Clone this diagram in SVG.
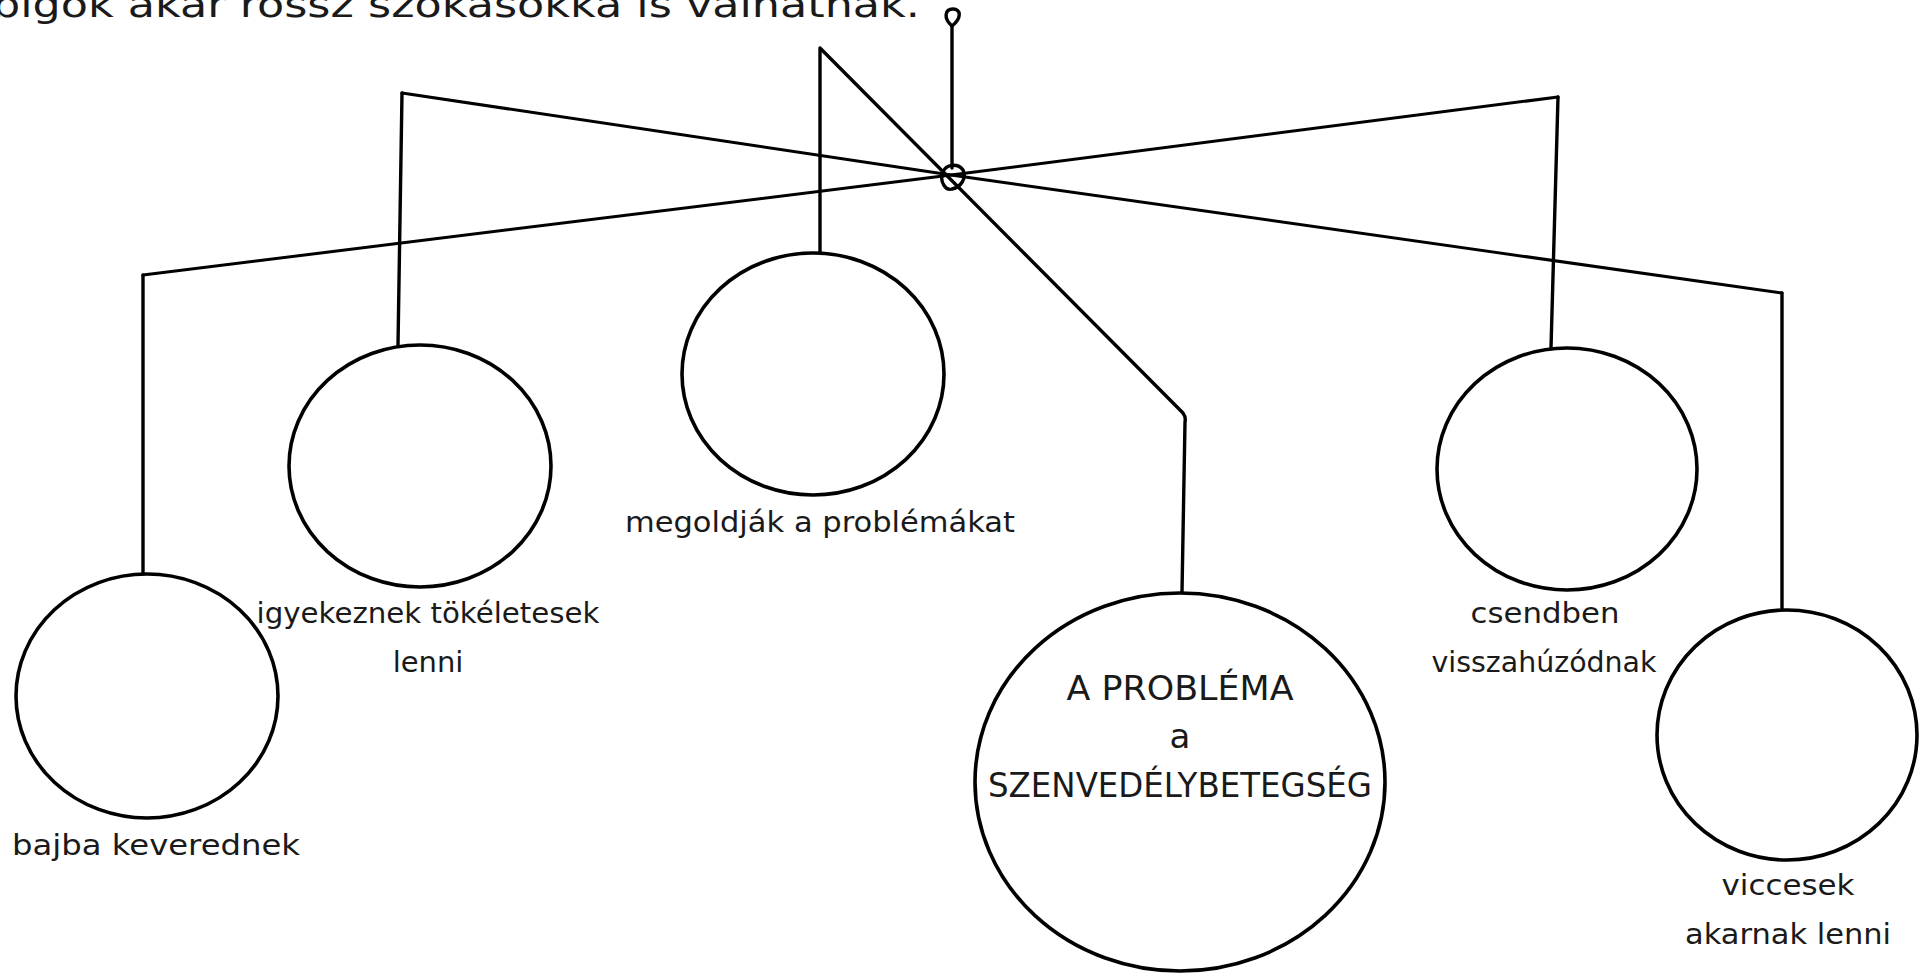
<svg xmlns="http://www.w3.org/2000/svg" width="1923" height="976" viewBox="0 0 1923 976">
<style>
.bg{fill:#ffffff}
.ln{fill:none;stroke:#000;stroke-width:3.4;stroke-linecap:round;stroke-linejoin:round}
.rod{fill:none;stroke:#000;stroke-width:3;stroke-linecap:round;stroke-linejoin:round}
.ball{fill:#fff;stroke:#000;stroke-width:3.6}
.t{font-family:"DejaVu Sans","Liberation Sans",sans-serif;font-size:29px;fill:#1a1a1a;text-anchor:middle}
.big{font-size:34px}
.top{font-family:"DejaVu Sans","Liberation Sans",sans-serif;font-size:36px;fill:#1a1a1a}
</style>
<rect class="bg" x="0" y="0" width="1923" height="976"/>
<text class="top" x="-8" y="17" textLength="928" lengthAdjust="spacingAndGlyphs">bigok akár rossz szokásokká is válhatnak.</text>
<g id="connectors">
  <path class="ln" d="M952,26 C943,18 945,9 953,9 C961,9 962,18 952,26 Z"/>
  <path class="ln" d="M952,26 L952,168"/>
  <path class="rod" d="M402,93 L951,175 L1782,293"/>
  <path class="rod" d="M143,275 L951,175 L1558,97"/>
  <path class="ln" d="M820,253 L820,48 L1183,413 Q1186,417 1185,422 L1182,592"/>
  <path class="ln" d="M143,575 L143,275"/>
  <path class="ln" d="M398,345 L402,93"/>
  <path class="ln" d="M1551,348 L1558,97"/>
  <path class="ln" d="M1782,610 L1782,293"/>
  <path class="ln" d="M943,172 C939,182 946,191 952,189 C961,187 967,178 963,170 C958,163 946,164 943,172 Z"/>
</g>
<g id="node-bajba">
  <ellipse class="ball" cx="147" cy="696" rx="131" ry="122"/>
  <text class="t" x="156" y="855" textLength="288" lengthAdjust="spacingAndGlyphs">bajba keverednek</text>
</g>
<g id="node-igyekeznek">
  <ellipse class="ball" cx="420" cy="466" rx="131" ry="121"/>
  <text class="t" x="428" y="623" textLength="343" lengthAdjust="spacingAndGlyphs">igyekeznek tökéletesek</text>
  <text class="t" x="428" y="672">lenni</text>
</g>
<g id="node-megoldjak">
  <ellipse class="ball" cx="813" cy="374" rx="131" ry="121"/>
  <text class="t" x="820" y="532" textLength="390" lengthAdjust="spacingAndGlyphs">megoldják a problémákat</text>
</g>
<g id="node-problema">
  <ellipse class="ball" cx="1180" cy="782" rx="205" ry="189"/>
  <text class="t big" x="1180" y="700" textLength="227" lengthAdjust="spacingAndGlyphs">A PROBLÉMA</text>
  <text class="t big" x="1180" y="748">a</text>
  <text class="t big" x="1180" y="797" textLength="384" lengthAdjust="spacingAndGlyphs">SZENVEDÉLYBETEGSÉG</text>
</g>
<g id="node-csendben">
  <ellipse class="ball" cx="1567" cy="469" rx="130" ry="121"/>
  <text class="t" x="1545" y="623" textLength="149" lengthAdjust="spacingAndGlyphs">csendben</text>
  <text class="t" x="1544" y="672" textLength="225" lengthAdjust="spacingAndGlyphs">visszahúzódnak</text>
</g>
<g id="node-viccesek">
  <ellipse class="ball" cx="1787" cy="735" rx="130" ry="125"/>
  <text class="t" x="1788" y="895" textLength="133" lengthAdjust="spacingAndGlyphs">viccesek</text>
  <text class="t" x="1788" y="944" textLength="206" lengthAdjust="spacingAndGlyphs">akarnak lenni</text>
</g>
</svg>
